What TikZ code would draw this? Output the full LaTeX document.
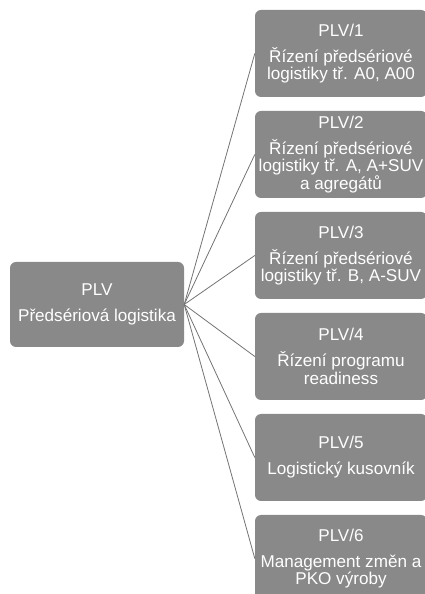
\documentclass[tikz,border=0pt]{standalone}
\usepackage{fontspec}
\setmainfont{Liberation Sans}
\usepackage{tikz}
\usetikzlibrary{positioning}
\definecolor{plvgray}{RGB}{137,137,137}
\definecolor{plvline}{RGB}{115,115,115}
\newcommand{\plvtitle}[1]{#1\\[8.5pt]}

\begin{document}
\begin{tikzpicture}[
    x=1pt, y=1pt,
    box/.style={rectangle, fill=plvgray, rounded corners=6pt, text=white,
                font=\fontsize{17.1}{17.5}\selectfont, align=center,
                inner sep=0pt, minimum width=172pt, minimum height=87pt},
    link/.style={draw=plvline, line width=0.8pt}
]
\useasboundingbox (0,0) rectangle (424,594);
\node[box, minimum width=174pt, minimum height=85pt] (root) at (97,289.5) {\plvtitle{PLV}Předsériová logistika};
\node[box] (plv1) at (341,540.5) {\plvtitle{PLV/1}Řízení předsériové\\logistiky tř. A0, A00};
\node[box, below=13.6pt of plv1] (plv2) {\plvtitle{PLV/2}Řízení předsériové\\logistiky tř. A, A+SUV\\a agregátů};
\node[box, below=13.6pt of plv2] (plv3) {\plvtitle{PLV/3}Řízení předsériové\\logistiky tř. B, A-SUV};
\node[box, below=13.6pt of plv3] (plv4) {\plvtitle{PLV/4}Řízení programu\\readiness};
\node[box, below=13.6pt of plv4] (plv5) {\plvtitle{PLV/5}Logistický kusovník};
\node[box, below=13.6pt of plv5] (plv6) {\plvtitle{PLV/6}Management změn a\\PKO výroby};
\draw[link] (root.east) -- (plv1.west);
\draw[link] (root.east) -- (plv2.west);
\draw[link] (root.east) -- (plv3.west);
\draw[link] (root.east) -- (plv4.west);
\draw[link] (root.east) -- (plv5.west);
\draw[link] (root.east) -- (plv6.west);
\end{tikzpicture}
\end{document}
